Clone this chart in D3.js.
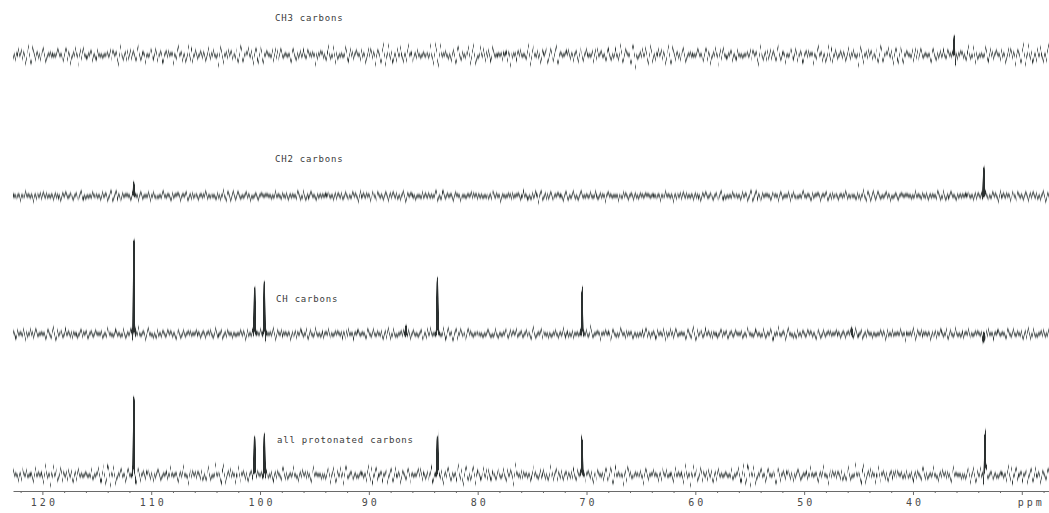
<!DOCTYPE html>
<html>
<head>
  <meta charset="UTF-8">
  <style>
    body { margin: 0; background: #fff; }
    svg { display: block; }
    .trace { fill: none; stroke: #2b3030; stroke-width: 1.1; stroke-linejoin: round; }
    .label { font-family: "DejaVu Sans Mono", monospace; font-size: 9px; letter-spacing: 0.8px; fill: #3a3a3a; }
    .axis text { font-family: "DejaVu Sans Mono", monospace; font-size: 10px; letter-spacing: 3px; fill: #4a4a4a; }
    .axis path, .axis line { stroke: #6a6a6a; }
  </style>
</head>
<body>

<svg></svg>
<script src="https://d3js.org/d3.v7.min.js"></script>

<script>

// spectra: [ppm, intensity]
let traceLabels = ["CH3 carbons", "CH2 carbons", "CH carbons", "all protonated carbons"];
let ch3Peaks = [[36.2, 18]];
let ch2Peaks = [[111.6, 12], [33.5, 30]];
let chPeaks  = [[111.6, 98], [100.5, 46], [99.6, 50], [86.6, 9], [83.7, 52], [70.4, 45], [45.6, 6], [33.5, -8]];
let allPeaks = [[111.6, 77], [100.5, 37], [99.6, 40], [83.7, 39], [70.4, 38], [33.4, 38]];
let noiseLevel = [16, 8, 9, 14];   // peak-to-peak baseline noise

let ppmRange = [122.7, 27.5];
let majorTicks = [120, 110, 100, 90, 80, 70, 60, 50, 40, 30];
let tickLabels = ["120", "110", "100", "90", "80", "70", "60", "50", "40", "ppm"];
let minorTicks = [122, 118, 116, 114, 112, 108, 106, 104, 102, 98, 96, 94, 92, 88, 86, 84, 82,
                  78, 76, 74, 72, 68, 66, 64, 62, 58, 56, 54, 52, 48, 46, 44, 42, 38, 36, 34, 32, 28];

let width = 1049, height = 513;

let svg = d3.select("svg")
    .attr("width", width)
    .attr("height", height)
    .attr("viewBox", "0 0 " + width + " " + height);

let x = d3.scaleLinear().domain(ppmRange).range([13, 1049]);
let y = d3.scaleLinear().domain([0, 100]).range([0, -100]);

// where each trace sits on the page
let baselines = [55, 196, 334, 475];
let labelPos = [[275, 21], [275, 162], [276, 302], [277, 443]];

let spectra = [ch3Peaks, ch2Peaks, chPeaks, allPeaks];

// peak list -> line points (narrow spike on a flat baseline)
function tracePoints(peaks) {
  let pts = [[ppmRange[0], 0]];
  peaks.slice().sort((a, b) => b[0] - a[0]).forEach(p => {
    pts.push([p[0] + 0.16, 0], [p[0] + 0.05, p[1] * 0.1], [p[0], p[1]], [p[0] - 0.05, p[1] * 0.1], [p[0] - 0.16, 0]);
  });
  pts.push([ppmRange[1], 0]);
  return pts;
}

let line = d3.line().x(d => x(d[0])).y(d => y(d[1]));

// baseline noise drawn as a texture filter on the trace
let defs = svg.append("defs");
baselines.forEach((b, i) => {
  let f = defs.append("filter")
      .attr("id", "noise" + i)
      .attr("filterUnits", "userSpaceOnUse")
      .attr("x", 0).attr("y", -120)
      .attr("width", width).attr("height", 160)
      .attr("color-interpolation-filters", "sRGB");
  f.append("feTurbulence")
      .attr("type", "fractalNoise")
      .attr("baseFrequency", "0.4 0.003")
      .attr("numOctaves", 3)
      .attr("seed", 3 + i * 7)
      .attr("result", "t");
  f.append("feColorMatrix")
      .attr("in", "t")
      .attr("type", "matrix")
      .attr("values", "1 0 0 0 0  0 0 0 0 0.5  0 0 0 0 0  0 0 0 0 1")
      .attr("result", "m");
  f.append("feDisplacementMap")
      .attr("in", "SourceGraphic")
      .attr("in2", "m")
      .attr("scale", noiseLevel[i] * 2.3)
      .attr("xChannelSelector", "G")
      .attr("yChannelSelector", "R")
      .attr("result", "d");
  f.append("feGaussianBlur")
      .attr("in", "d")
      .attr("stdDeviation", "0 1.7")
      .attr("result", "b");
  f.append("feComponentTransfer")
      .attr("in", "b")
      .append("feFuncA")
      .attr("type", "linear")
      .attr("slope", 3);
});

let traces = svg.selectAll("g.spectrum")
    .data(spectra)
    .enter()
    .append("g")
    .attr("class", "spectrum")
    .attr("transform", (d, i) => `translate(0, ${baselines[i]})`);

traces.append("path")
    .attr("class", "trace")
    .attr("filter", (d, i) => `url(#noise${i})`)
    .attr("d", d => line(tracePoints(d)));

svg.selectAll("text.label")
    .data(traceLabels)
    .enter()
    .append("text")
    .attr("class", "label")
    .attr("x", (d, i) => labelPos[i][0])
    .attr("y", (d, i) => labelPos[i][1])
    .text(d => d);

// ppm axis
let axisY = 491;

svg.append("g")
    .attr("class", "axis")
    .attr("transform", `translate(0, ${axisY})`)
    .call(d3.axisBottom(x).tickValues(minorTicks).tickSize(2).tickSizeOuter(0).tickFormat(""));

let axis = svg.append("g")
    .attr("class", "axis")
    .attr("transform", `translate(0, ${axisY})`)
    .call(d3.axisBottom(x)
        .tickValues(majorTicks)
        .tickSize(4)
        .tickSizeOuter(0)
        .tickPadding(4)
        .tickFormat((d, i) => tickLabels[i]));

axis.select(".domain").remove();
axis.selectAll("text").attr("dx", (d, i) => tickLabels[i] == "ppm" ? 9 : 1.5);

</script>

</body>
</html>
